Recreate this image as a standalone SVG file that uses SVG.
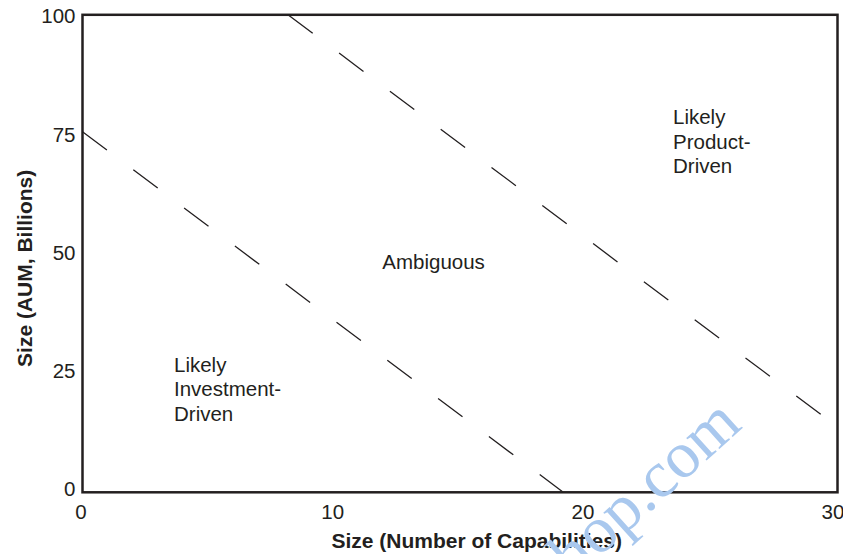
<svg xmlns="http://www.w3.org/2000/svg" width="843" height="554" viewBox="0 0 843 554">
  <style>
    .lbl { font-family: "Liberation Sans", Arial, sans-serif; font-size: 20.5px; fill: #231f20; }
    .ttl { font-family: "Liberation Sans", Arial, sans-serif; font-size: 21px; font-weight: bold; fill: #231f20; }
    .frame { fill: none; stroke: #231f20; stroke-width: 2.5; }
    .dash { fill: none; stroke: #231f20; stroke-width: 1.3; stroke-dasharray: 30.5 33; }
    .wm { font-family: "Liberation Serif", "Times New Roman", serif; font-size: 66px; fill: #a9c8ee; }
  </style>
  <rect width="843" height="554" fill="#ffffff"/>

  <g id="plot-frame">
    <rect class="frame" x="82.5" y="14.8" width="755" height="477.5"/>
  </g>

  <g id="connectors">
    <line class="dash" x1="82.5" y1="131.7" x2="562.9" y2="492"/>
    <line class="dash" x1="288.3" y1="15" x2="837.5" y2="426.9"/>
  </g>

  <g id="y-ticks">
    <text class="lbl" x="75.5" y="23.3" text-anchor="end">100</text>
    <text class="lbl" x="75.5" y="141.7" text-anchor="end">75</text>
    <text class="lbl" x="75.5" y="260" text-anchor="end">50</text>
    <text class="lbl" x="75.5" y="377.5" text-anchor="end">25</text>
    <text class="lbl" x="75.5" y="495.5" text-anchor="end">0</text>
  </g>

  <g id="x-ticks">
    <text class="lbl" x="81" y="518.5" text-anchor="middle">0</text>
    <text class="lbl" x="332.7" y="518.5" text-anchor="middle">10</text>
    <text class="lbl" x="583" y="518.5" text-anchor="middle">20</text>
    <text class="lbl" x="833" y="518.5" text-anchor="middle">30</text>
  </g>

  <g id="y-axis-title">
    <text class="ttl" transform="translate(32,268.3) rotate(-90)" text-anchor="middle">Size (AUM, Billions)</text>
  </g>

  <g id="x-axis-title">
    <text class="ttl" x="476.7" y="548" text-anchor="middle">Size (Number of Capabilities)</text>
  </g>

  <g id="region-investment">
    <text class="lbl" x="174" y="371.5">Likely</text>
    <text class="lbl" x="174" y="396">Investment-</text>
    <text class="lbl" x="174" y="420.5">Driven</text>
  </g>

  <g id="region-ambiguous">
    <text class="lbl" x="382.3" y="269.3">Ambiguous</text>
  </g>

  <g id="region-product">
    <text class="lbl" x="673" y="124">Likely</text>
    <text class="lbl" x="673" y="148.5">Product-</text>
    <text class="lbl" x="673" y="173">Driven</text>
  </g>

  <g id="watermark">
    <text class="wm" transform="translate(573.4,580.4) rotate(-42)">hop.com</text>
  </g>
</svg>
